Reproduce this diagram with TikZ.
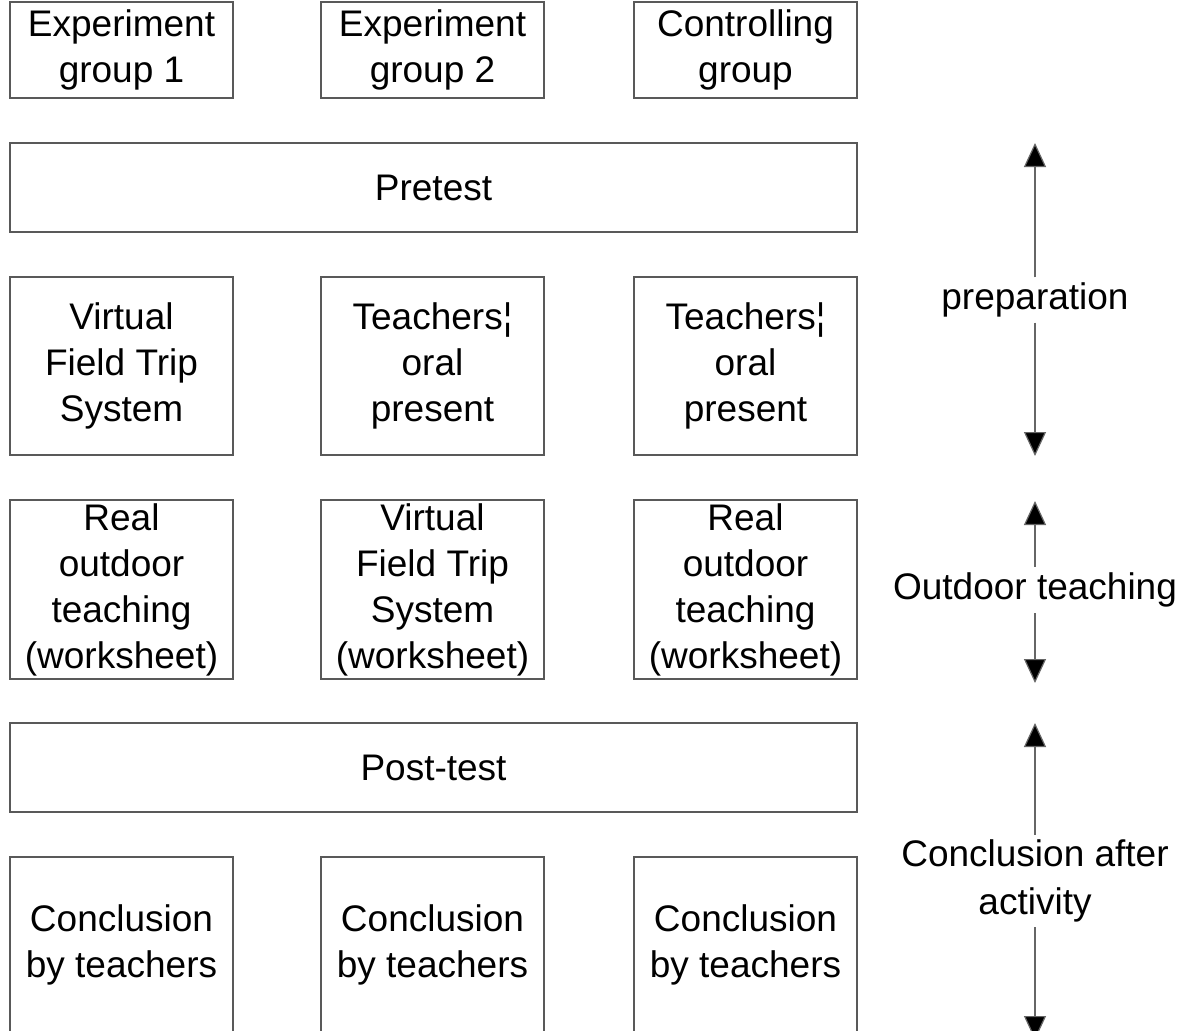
\documentclass[tikz,border=0pt]{standalone}
\usepackage{fontspec}
\setmainfont{Liberation Sans}
\usetikzlibrary{arrows.meta}
\tikzset{
  boxline/.style={draw=black!65, line width=1.3pt},
  box/.style={boxline, rectangle, inner sep=0pt, align=center,
    font=\fontsize{37}{46}\selectfont},
  lbl/.style={inner sep=0pt, align=center, font=\fontsize{37}{48}\selectfont},
  arr/.style={draw=black!60, line width=1.2pt, -{Triangle[width=22pt,length=24pt,fill=black]}}
}
\newcommand{\mkbox}[6]{% name, x1, y1, x2, y2, text
  \node[box, minimum width={#4-#2}, minimum height={#5-#3}] (#1) at ({(#2+#4)/2},{(#3+#5)/2}) {#6};}
\begin{document}
\begin{tikzpicture}[x=1pt,y=-1pt]
\useasboundingbox (0,0) rectangle (1195,1031);
\fill[white] (0,0) rectangle (1195,1031);
% row 1
\mkbox{g1}{10}{2}{233}{98}{Experiment\\group 1}
\mkbox{g2}{321}{2}{544}{98}{Experiment\\group 2}
\mkbox{g3}{634}{2}{857}{98}{Controlling\\group}
% pretest
\mkbox{pre}{10}{143}{857}{232}{Pretest}
% row 3
\mkbox{a1}{10}{277}{233}{455}{Virtual\\Field Trip\\System}
\mkbox{a2}{321}{277}{544}{455}{Teachers¦\\oral\\present}
\mkbox{a3}{634}{277}{857}{455}{Teachers¦\\oral\\present}
% row 4
\mkbox{b1}{10}{500}{233}{679}{Real\\outdoor\\teaching\\(worksheet)}
\mkbox{b2}{321}{500}{544}{679}{Virtual\\Field Trip\\System\\(worksheet)}
\mkbox{b3}{634}{500}{857}{679}{Real\\outdoor\\teaching\\(worksheet)}
% post-test
\mkbox{post}{10}{723}{857}{812}{Post-test}
% row 6
\mkbox{c1}{10}{857}{233}{1033}{Conclusion\\by teachers}
\mkbox{c2}{321}{857}{544}{1033}{Conclusion\\by teachers}
\mkbox{c3}{634}{857}{857}{1033}{Conclusion\\by teachers}
% phase labels and arrows
\node[lbl, minimum height=45pt] (prep) at (1035,300) {preparation};
\coordinate (prepT) at (1035,143);
\coordinate (prepB) at (1035,456);
\draw[arr] (prep) -- (prepT);
\draw[arr] (prep) -- (prepB);
\node[lbl, minimum height=46pt] (out) at (1035,590) {Outdoor teaching};
\coordinate (outT) at (1035,501);
\coordinate (outB) at (1035,683);
\draw[arr] (out) -- (outT);
\draw[arr] (out) -- (outB);
\node[lbl, minimum height=92pt] (conc) at (1035,881) {Conclusion after\\activity};
\coordinate (concT) at (1035,723);
\coordinate (concB) at (1035,1040);
\draw[arr] (conc) -- (concT);
\draw[arr] (conc) -- (concB);
\end{tikzpicture}
\end{document}
